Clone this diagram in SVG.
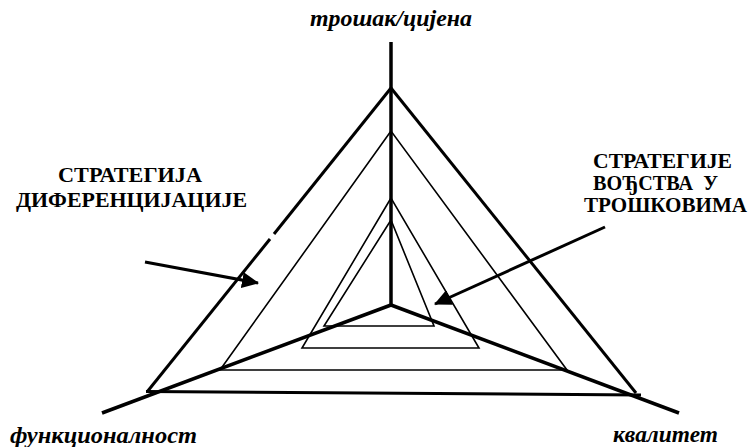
<svg xmlns="http://www.w3.org/2000/svg" width="751" height="447" viewBox="0 0 751 447">
  <style>
    .axis { stroke: #000; stroke-width: 3.5; fill: none; stroke-linecap: butt; }
    .outer { stroke: #000; stroke-width: 3; fill: none; }
    .inner { stroke: #000; stroke-width: 1.6; fill: none; }
    .arrow { stroke: #000; stroke-width: 3; fill: none; }
    .label { font-family: "Liberation Serif", "Times New Roman", serif; font-weight: bold; font-size: 20px; fill: #000; }
    .axis-label { font-family: "Liberation Serif", "Times New Roman", serif; font-weight: bold; font-style: italic; font-size: 23px; fill: #000; }
  </style>
  <defs>
    <marker id="head" markerUnits="userSpaceOnUse" markerWidth="18" markerHeight="16" refX="16" refY="8" orient="auto">
      <path d="M0,0 L17,8 L0,16 Z" fill="#000"/>
    </marker>
  </defs>
  <rect width="751" height="447" fill="#fff"/>

  <!-- nested strategy triangles -->
  <g id="triangles">
    <g id="tri-outer">
      <line class="outer" x1="391" y1="88" x2="274" y2="234"/>
      <line class="outer" x1="270" y1="239" x2="147" y2="392"/>
      <line class="outer" x1="391" y1="88" x2="636" y2="393"/>
      <line class="outer" x1="146" y1="391.5" x2="641" y2="395"/>
    </g>
    <polygon id="tri-2" class="inner" points="391,131 220,370 567,370"/>
    <polygon id="tri-3" class="inner" points="391,198 302,348 479,348"/>
    <polygon id="tri-4" class="inner" points="391,220 324,326 434,326"/>
  </g>

  <!-- three axes from the centre -->
  <g id="axes">
    <line class="axis" x1="391" y1="42" x2="391" y2="306"/>
    <line class="axis" x1="391" y1="305" x2="102" y2="413"/>
    <line class="axis" x1="391" y1="305" x2="679" y2="413"/>
  </g>

  <!-- pointer arrows -->
  <g id="connectors">
    <line class="arrow" x1="145" y1="262" x2="258" y2="283" marker-end="url(#head)"/>
    <line class="arrow" x1="605" y1="227" x2="435" y2="304" marker-end="url(#head)"/>
  </g>

  <g id="label-cost">
    <text class="axis-label" x="310" y="26" textLength="162" lengthAdjust="spacingAndGlyphs">трошак/цијена</text>
  </g>
  <g id="label-function">
    <text class="axis-label" x="10" y="443" textLength="187" lengthAdjust="spacingAndGlyphs">функционалност</text>
  </g>
  <g id="label-quality">
    <text class="axis-label" x="613" y="442" textLength="105" lengthAdjust="spacingAndGlyphs">квалитет</text>
  </g>
  <g id="label-differentiation">
    <text class="label" x="58" y="182" textLength="144" lengthAdjust="spacingAndGlyphs">СТРАТЕГИЈА</text>
    <text class="label" x="16" y="207" textLength="231" lengthAdjust="spacingAndGlyphs">ДИФЕРЕНЦИЈАЦИЈЕ</text>
  </g>
  <g id="label-cost-leadership">
    <text class="label" x="593" y="168" textLength="139" lengthAdjust="spacingAndGlyphs">СТРАТЕГИЈЕ</text>
    <text class="label" x="593" y="190" textLength="125" lengthAdjust="spacingAndGlyphs" xml:space="preserve">ВОЂСТВА  У</text>
    <text class="label" x="584" y="212" textLength="163" lengthAdjust="spacingAndGlyphs">ТРОШКОВИМА</text>
  </g>
</svg>
